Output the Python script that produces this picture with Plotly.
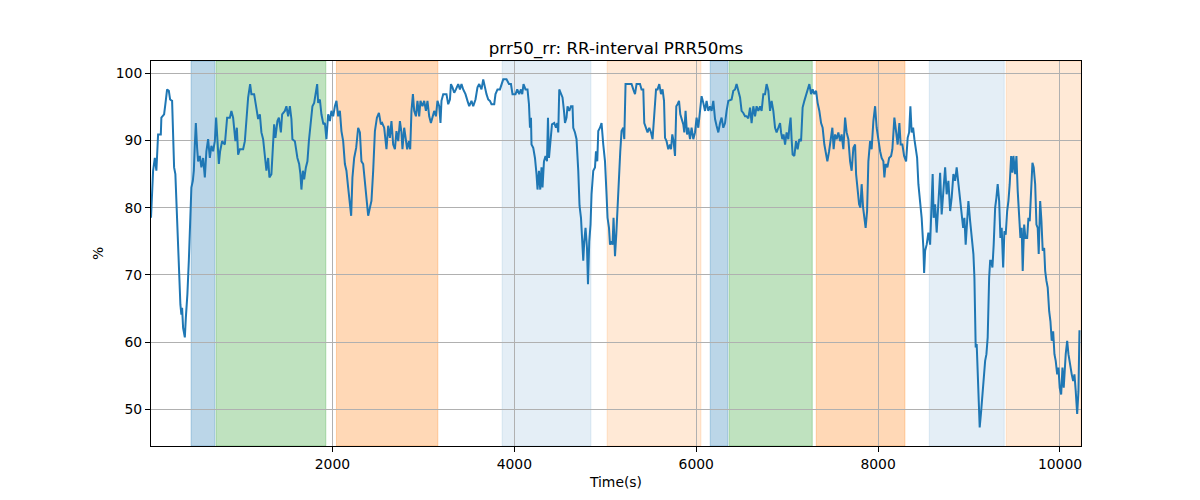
import plotly.graph_objects as go

# ---- data ----
time_s = [5, 28, 47, 64, 83, 113, 119, 149, 163, 182, 201, 215, 237, 259, 273, 295, 314, 328, 339, 347,
          358, 377, 388, 405, 421, 435, 449, 465, 476, 487, 498, 512, 523, 542, 559, 578, 597, 614, 633, 652,
          669, 688, 707, 721, 735, 751, 765, 787, 817, 842, 872, 889, 908, 933, 949, 963, 982, 1018, 1037, 1054,
          1073, 1095, 1109, 1139, 1164, 1183, 1202, 1219, 1238, 1257, 1274, 1293, 1307, 1329, 1348, 1359, 1373, 1395, 1411, 1433,
          1447, 1477, 1494, 1513, 1532, 1549, 1560, 1587, 1615, 1634, 1648, 1659, 1675, 1689, 1708, 1725, 1741, 1763, 1780, 1799,
          1818, 1832, 1843, 1862, 1879, 1901, 1917, 1934, 1953, 1972, 1989, 2008, 2027, 2044, 2063, 2082, 2099, 2118, 2137, 2154,
          2173, 2192, 2206, 2220, 2239, 2261, 2283, 2302, 2319, 2338, 2357, 2374, 2393, 2412, 2429, 2448, 2467, 2489, 2511, 2533,
          2547, 2569, 2583, 2594, 2613, 2632, 2649, 2668, 2687, 2704, 2723, 2742, 2759, 2770, 2789, 2803, 2822, 2841, 2855, 2869,
          2885, 2899, 2918, 2935, 2954, 2968, 2990, 3009, 3028, 3045, 3064, 3083, 3100, 3119, 3138, 3155, 3174, 3188, 3199, 3218,
          3254, 3273, 3292, 3303, 3320, 3339, 3358, 3383, 3402, 3419, 3438, 3463, 3485, 3504, 3529, 3548, 3573, 3595, 3614, 3639,
          3658, 3677, 3694, 3713, 3732, 3749, 3779, 3793, 3815, 3842, 3859, 3878, 3914, 3941, 3963, 3980, 4013, 4032, 4054, 4073,
          4087, 4101, 4123, 4145, 4161, 4172, 4183, 4189, 4208, 4227, 4244, 4255, 4271, 4285, 4299, 4310, 4326, 4343, 4359, 4370,
          4381, 4395, 4414, 4439, 4458, 4472, 4483, 4494, 4513, 4530, 4546, 4557, 4574, 4585, 4604, 4623, 4640, 4648, 4667, 4684,
          4703, 4717, 4733, 4747, 4758, 4769, 4783, 4799, 4810, 4824, 4838, 4849, 4868, 4887, 4898, 4912, 4923, 4942, 4959, 4978,
          4997, 5014, 5025, 5041, 5052, 5069, 5080, 5091, 5107, 5121, 5135, 5151, 5165, 5179, 5198, 5209, 5223, 5253, 5289, 5308,
          5327, 5344, 5382, 5399, 5418, 5429, 5448, 5465, 5484, 5503, 5520, 5539, 5558, 5575, 5594, 5613, 5630, 5646, 5657, 5674,
          5693, 5712, 5723, 5737, 5751, 5767, 5781, 5795, 5811, 5825, 5839, 5858, 5869, 5883, 5899, 5913, 5932, 5949, 5968, 5987,
          6004, 6023, 6042, 6059, 6078, 6097, 6114, 6133, 6152, 6169, 6188, 6207, 6224, 6243, 6262, 6279, 6298, 6317, 6334, 6353,
          6389, 6408, 6427, 6444, 6463, 6482, 6499, 6518, 6537, 6554, 6573, 6592, 6609, 6628, 6647, 6664, 6683, 6702, 6719, 6738,
          6757, 6774, 6793, 6812, 6829, 6848, 6867, 6884, 6903, 6922, 6933, 6947, 6961, 6977, 6994, 7013, 7024, 7038, 7049, 7060,
          7079, 7098, 7115, 7134, 7153, 7170, 7189, 7208, 7225, 7244, 7263, 7280, 7299, 7318, 7335, 7354, 7373, 7390, 7409, 7423,
          7442, 7461, 7478, 7497, 7511, 7527, 7544, 7563, 7582, 7599, 7618, 7637, 7654, 7673, 7692, 7709, 7728, 7747, 7758, 7775,
          7791, 7805, 7819, 7835, 7849, 7863, 7879, 7893, 7912, 7929, 7948, 7967, 7984, 8003, 8022, 8039, 8058, 8069, 8083, 8102,
          8121, 8143, 8157, 8179, 8198, 8215, 8234, 8248, 8267, 8286, 8308, 8325, 8341, 8355, 8369, 8385, 8399, 8413, 8429, 8443,
          8457, 8468, 8479, 8490, 8498, 8506, 8517, 8534, 8553, 8572, 8589, 8600, 8611, 8627, 8644, 8663, 8682, 8699, 8718, 8737,
          8754, 8773, 8792, 8809, 8828, 8847, 8864, 8883, 8902, 8919, 8935, 8949, 8963, 8979, 8993, 9012, 9029, 9048, 9059, 9067,
          9073, 9084, 9095, 9106, 9117, 9133, 9147, 9161, 9177, 9191, 9205, 9221, 9232, 9243, 9257, 9271, 9287, 9301, 9315, 9331,
          9345, 9359, 9375, 9389, 9403, 9419, 9433, 9447, 9463, 9477, 9488, 9507, 9521, 9535, 9551, 9565, 9579, 9590, 9606, 9620,
          9639, 9653, 9667, 9683, 9697, 9711, 9727, 9741, 9755, 9766, 9782, 9796, 9810, 9826, 9837, 9851, 9865, 9881, 9895, 9909,
          9925, 9939, 9953, 9969, 9983, 9997, 10013, 10027, 10041, 10063, 10079, 10093, 10112, 10129, 10145, 10159, 10173, 10189, 10203, 10214,
          10225]

prr50 = [78.5, 85.5, 87.4, 85.5, 90.9, 90.9, 93.4, 93.9, 95.4, 97.6, 97.4, 96.1, 95.9, 86.0, 85.0, 77.0, 68.6, 65.6, 64.1, 65.1,
         62.1, 60.7, 63.6, 67.1, 72.1, 78.0, 83.0, 84.0, 85.5, 89.4, 92.6, 88.9, 86.9, 87.7, 86.0, 87.4, 84.5, 88.4, 90.2, 87.4,
         89.2, 88.4, 89.9, 93.4, 89.4, 86.5, 88.4, 89.9, 89.4, 93.4, 93.4, 94.4, 93.4, 89.9, 91.9, 87.9, 88.7, 88.7, 89.9, 93.4,
         96.4, 98.4, 96.9, 96.9, 94.4, 93.2, 93.9, 91.2, 90.2, 87.4, 85.5, 87.4, 84.5, 85.0, 88.9, 92.4, 90.4, 92.9, 93.4, 91.2,
         93.9, 94.4, 95.1, 93.6, 95.1, 93.2, 90.2, 89.9, 87.4, 86.5, 85.0, 82.7, 85.5, 84.2, 86.0, 86.9, 89.9, 93.4, 95.1, 95.6,
         96.9, 98.4, 95.6, 96.1, 93.9, 92.4, 92.6, 90.2, 93.9, 92.9, 94.4, 93.6, 95.1, 95.9, 93.6, 94.4, 91.4, 89.9, 86.5, 85.5,
         83.0, 81.0, 78.8, 84.5, 87.4, 88.9, 91.9, 91.2, 86.9, 86.5, 83.5, 81.5, 78.8, 80.0, 81.0, 85.5, 91.4, 93.4, 94.1, 92.4,
         92.6, 91.9, 90.4, 88.7, 92.2, 90.4, 92.9, 89.4, 88.7, 91.4, 89.9, 92.9, 91.2, 88.7, 91.9, 90.4, 88.7, 89.9, 88.7, 94.4,
         96.9, 94.4, 93.6, 95.9, 93.6, 95.9, 95.1, 95.9, 94.4, 95.9, 93.6, 92.6, 93.6, 94.4, 93.6, 95.9, 95.1, 92.6, 95.9, 96.9,
         96.9, 95.4, 96.1, 98.4, 97.9, 97.1, 97.6, 98.4, 97.6, 98.4, 97.6, 96.9, 95.9, 95.1, 95.9, 95.1, 96.1, 97.9, 98.4, 97.6,
         99.1, 97.6, 96.9, 96.1, 95.9, 95.4, 95.4, 96.9, 97.6, 97.6, 98.4, 99.1, 99.1, 98.4, 98.4, 96.9, 96.9, 97.6, 96.9, 97.6,
         96.9, 98.4, 97.6, 97.6, 95.4, 91.9, 93.4, 89.4, 88.9, 87.4, 85.0, 82.7, 85.5, 82.7, 86.0, 83.0, 86.9, 87.7, 86.9, 93.4,
         87.4, 89.4, 92.4, 92.6, 91.9, 92.6, 91.2, 97.6, 96.9, 96.4, 94.4, 92.6, 93.4, 95.1, 94.4, 95.1, 95.1, 91.9, 91.2, 90.2,
         85.5, 80.3, 78.5, 74.5, 72.1, 75.0, 77.0, 74.0, 68.6, 75.0, 77.5, 82.0, 85.5, 86.0, 88.4, 86.9, 91.4, 91.9, 92.6, 89.4,
         86.9, 82.0, 78.5, 77.0, 74.5, 75.0, 74.5, 78.5, 72.8, 76.0, 80.5, 85.5, 88.4, 91.4, 91.9, 90.2, 98.4, 98.4, 98.4, 97.6,
         96.9, 98.4, 98.4, 97.6, 97.6, 92.6, 91.9, 91.2, 91.9, 91.2, 90.2, 93.4, 97.6, 97.6, 98.4, 96.9, 97.6, 95.9, 90.4, 89.9,
         88.7, 89.4, 88.7, 90.9, 89.9, 87.7, 95.1, 95.4, 95.9, 93.9, 93.2, 92.4, 91.2, 94.4, 90.9, 91.9, 90.2, 91.9, 90.2, 91.2,
         93.4, 91.9, 94.4, 96.6, 95.6, 94.4, 95.9, 94.4, 95.1, 94.4, 95.9, 93.2, 92.2, 91.2, 92.6, 93.4, 91.9, 92.6, 94.4, 95.9,
         96.1, 97.4, 97.6, 98.4, 97.4, 96.4, 94.4, 94.1, 93.6, 93.6, 93.3, 94.9, 92.6, 95.1, 93.6, 95.1, 94.4, 95.1, 94.4, 96.9,
         96.9, 98.4, 97.4, 94.4, 95.9, 94.4, 91.9, 91.2, 91.9, 92.6, 91.2, 90.2, 90.9, 89.4, 91.2, 90.2, 91.9, 93.4, 90.2, 87.9,
         87.7, 89.9, 88.7, 90.2, 89.9, 94.9, 95.9, 96.9, 97.6, 98.4, 96.9, 97.6, 96.9, 97.4, 95.6, 94.4, 92.6, 91.9, 89.4, 88.4,
         86.9, 88.4, 89.9, 91.9, 88.7, 90.9, 90.2, 91.2, 89.9, 90.9, 88.7, 93.4, 91.2, 90.2, 86.9, 85.5, 88.9, 89.4, 85.0, 83.0,
         80.5, 80.0, 83.5, 80.0, 78.0, 77.0, 79.5, 86.9, 89.9, 88.7, 92.9, 95.1, 91.9, 89.9, 88.4, 87.4, 86.9, 84.5, 86.5, 86.0,
         87.4, 87.7, 88.7, 93.4, 91.2, 89.4, 92.6, 89.4, 89.4, 87.7, 86.9, 90.4, 91.2, 95.1, 91.2, 91.9, 90.2, 88.9, 87.4, 83.5,
         82.0, 80.0, 78.5, 76.0, 74.0, 70.3, 73.6, 74.5, 76.3, 74.5, 80.0, 85.0, 78.5, 80.5, 76.3, 81.0, 85.2, 79.0, 83.0, 86.0,
         82.0, 84.0, 79.5, 81.5, 85.0, 84.0, 86.0, 83.5, 81.0, 78.5, 77.0, 78.5, 74.5, 78.0, 81.0, 78.0, 76.0, 73.1, 69.6, 64.1,
         59.2, 59.7, 54.2, 49.3, 47.3, 49.7, 52.2, 55.2, 57.2, 58.2, 60.7, 69.6, 72.1, 72.1, 71.1, 74.5, 80.0, 81.5, 83.5, 81.0,
         75.5, 77.0, 71.1, 76.5, 76.0, 79.5, 81.0, 83.5, 87.7, 85.2, 87.7, 85.0, 87.7, 82.5, 79.3, 75.5, 77.0, 70.6, 77.5, 75.5,
         75.5, 78.5, 78.0, 82.0, 86.7, 86.0, 83.5, 77.5, 77.0, 73.1, 81.0, 78.0, 73.6, 74.0, 70.6, 69.1, 68.1, 64.6, 63.1, 60.2,
         61.6, 58.2, 57.2, 55.2, 56.2, 53.2, 52.2, 56.2, 53.2, 58.2, 60.2, 58.2, 56.2, 55.2, 54.2, 55.2, 52.7, 49.3, 52.7, 61.6,
         61.6]

# shaded intervals: (start, end, colour, alpha)
span_start = [446, 721, 2044, 3866, 5021, 6154, 6363, 7320, 8563, 9409]
span_end = [707, 1927, 3159, 4842, 6052, 6349, 7276, 8295, 9387, 10231]
span_color = ["31,119,180", "44,160,44", "255,127,14", "31,119,180", "255,127,14",
              "31,119,180", "44,160,44", "255,127,14", "31,119,180", "255,127,14"]
span_alpha = [0.3, 0.3, 0.3, 0.12, 0.17, 0.3, 0.3, 0.3, 0.12, 0.17]

x_ticks = [2000, 4000, 6000, 8000, 10000]
x_tick_text = ["2000", "4000", "6000", "8000", "10000"]
y_ticks = [50, 60, 70, 80, 90, 100]

FONT = "DejaVu Sans"

fig = go.Figure()
fig.add_trace(go.Scatter(x=time_s, y=prr50, mode="lines",
                         line=dict(color="#1f77b4", width=2), showlegend=False))

for s, e, c, a in zip(span_start, span_end, span_color, span_alpha):
    fig.add_shape(type="rect", xref="x", yref="paper", x0=s, x1=e, y0=0, y1=1,
                  fillcolor=f"rgba({c},{a})", line=dict(color=f"rgba({c},{a})", width=1),
                  layer="between")

# page body adds ~7-8 px offset; margins compensate
fig.update_layout(
    width=1200, height=500,
    margin=dict(l=143, r=127, t=53, b=62),
    paper_bgcolor="white", plot_bgcolor="white",
    font=dict(family=FONT, size=13.9, color="black"),
    title=dict(text="prr50_rr: RR-interval PRR50ms", x=0.5, xref="paper", xanchor="center",
               y=1, yref="paper", yanchor="bottom", pad=dict(b=7),
               font=dict(family=FONT, size=16.7, color="black")),
    showlegend=False,
)
fig.update_xaxes(range=[5, 10231], tickvals=x_ticks, ticktext=x_tick_text,
                 ticks="outside", ticklen=5, tickcolor="black",
                 showline=True, linecolor="black", linewidth=1, mirror=True,
                 showgrid=True, gridcolor="#b0b0b0", gridwidth=1, zeroline=False,
                 title=dict(text="Time(s)", standoff=6, font=dict(family=FONT, size=13.9)))
fig.update_yaxes(range=[44.54, 101.83], tickvals=y_ticks, ticks="outside", ticklen=5, tickcolor="black",
                 showline=True, linecolor="black", linewidth=1, mirror=True,
                 showgrid=True, gridcolor="#b0b0b0", gridwidth=1, zeroline=False,
                 title=dict(text="%", standoff=8, font=dict(family=FONT, size=13.9)))

fig.write_html("out.html")
